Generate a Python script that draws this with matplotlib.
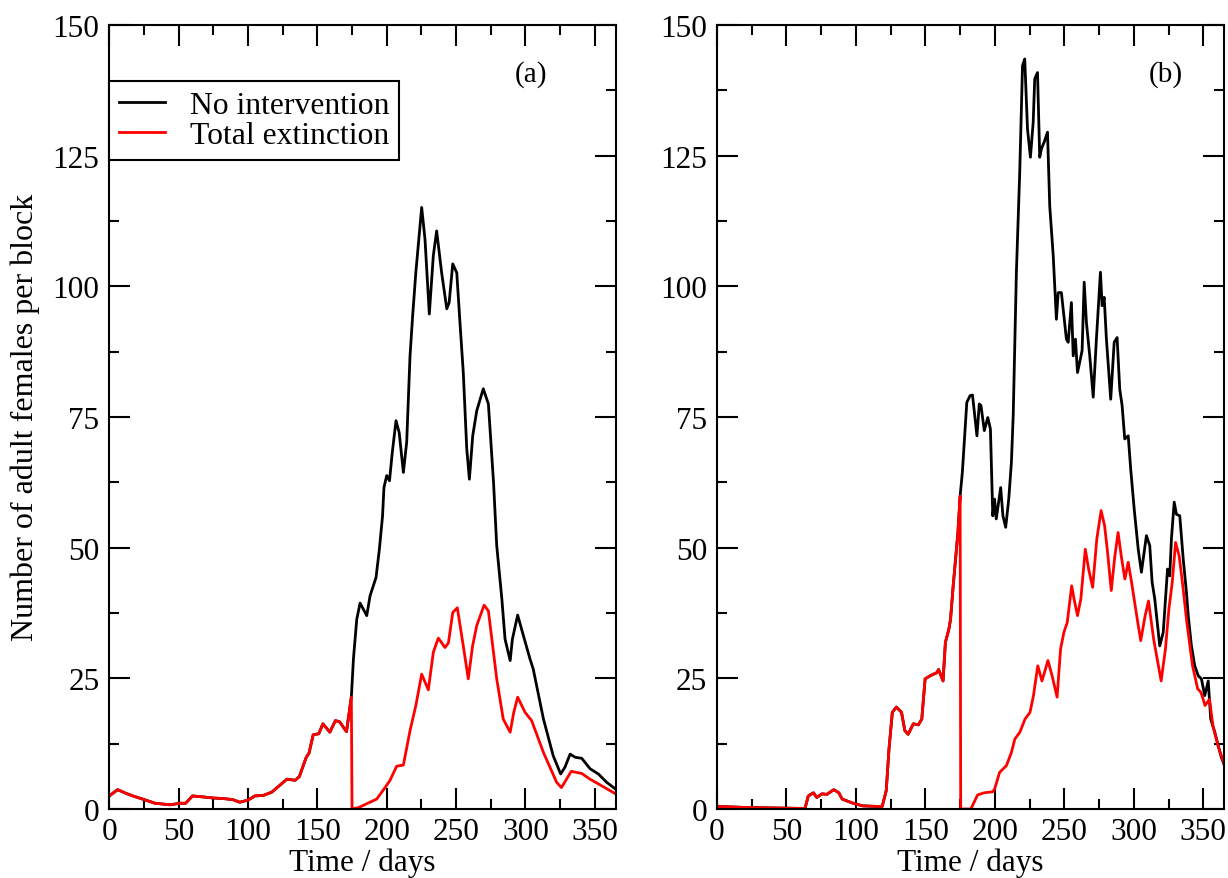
import matplotlib
matplotlib.use('Agg')
import matplotlib.pyplot as plt
from matplotlib.ticker import MultipleLocator

plt.rcParams['font.family'] = ['Liberation Serif', 'DejaVu Serif']

# panel (a): both runs are identical until the intervention at day 175
a_days_pre = [0, 6, 12, 17, 24, 33, 44, 51, 55, 60, 68, 75, 82, 89, 94, 100, 105, 111, 117,
              121, 128, 134, 137, 142, 144, 147, 151, 154, 159, 163, 166, 171, 174.5]
a_vals_pre = [2.5, 3.7, 3.0, 2.5, 1.9, 1.1, 0.8, 1.1, 1.1, 2.5, 2.3, 2.1, 2.0, 1.8, 1.3, 1.7, 2.5, 2.6, 3.2,
              4.1, 5.7, 5.5, 6.2, 9.9, 10.7, 14.2, 14.4, 16.3, 14.7, 16.9, 16.7, 14.8, 21.4]

a_none_days = [176, 178.4, 180.8, 185.6, 188, 192.3, 194.7, 197, 198, 200,
               202, 204, 206.7, 209, 212, 214.4, 216.8, 218.7, 221, 225.2,
               227.6, 230.7, 233.6, 236, 239.6, 243.3, 245, 247.6, 250.5, 252.8,
               255.2, 257.7, 259.6, 262, 264.9, 269.6, 273.3, 277, 279.3, 283,
               285.3, 289, 290.6, 294.4, 298.5, 303.3, 305.6, 313, 320, 325.4,
               328.5, 332.2, 335.8, 340.6, 346.6, 352.6, 358.6, 365]
a_none_vals = [28.7, 36.3, 39.4, 37, 40.8, 44.3, 49.7, 56.1, 61.5, 63.8,
               62.8, 68.2, 74.3, 72, 64.4, 70.2, 86.7, 94.4, 102.7, 115.1,
               109, 94.7, 105.9, 110.6, 102.6, 95.7, 96.9, 104.3, 102.6, 93.1,
               83.5, 68.9, 63.1, 71.4, 76.2, 80.4, 77.5, 62.5, 50.4, 40.2,
               32.5, 28.4, 32.5, 37.1, 33.2, 28.7, 26.8, 17.2, 10.2, 6.7,
               8.0, 10.5, 9.9, 9.7, 7.7, 6.7, 5.1, 3.8]

a_ext_days = [175, 180, 185.5, 192.8, 198.8, 202.2, 207.2, 212, 216.8, 221, 225.2, 230, 233.6,
              237.2, 242, 244.5, 247.6, 250.9, 255.2, 258.8, 261.9, 264.9, 270.2, 273.3, 279.3,
              284, 289, 291.6, 294.4, 299.7, 304.5, 313, 322.5, 326, 333, 340.6, 346.6, 352.6, 365]
a_ext_vals = [0, 0.3, 1, 1.9, 4.1, 5.4, 8.2, 8.4, 15.0, 19.8, 25.8, 22.8, 30,
              32.7, 30.9, 31.8, 37.6, 38.5, 31.2, 24.9, 31.2, 35.1, 39, 37.9, 24.9,
              17.2, 14.7, 18.5, 21.4, 18.5, 16.9, 10.8, 5.1, 4.1, 7.2, 6.8, 5.7, 4.8, 2.9]

# panel (b)
b_days_pre = [0, 20, 40, 63.3, 65.7, 69.4, 71.8, 75.5, 79.1, 84, 87.7, 90.1, 97.4, 104.8, 114.5,
              118.9, 121.8, 123.8, 126.2, 129.1, 132.8, 135.2, 137.6, 141.3, 144.9, 147.4, 149.8,
              153.5, 158.3, 159.5, 162.7, 164.4, 166.9, 168.1, 170, 171.7, 173.4, 175]
b_vals_pre = [0.5, 0.3, 0.2, 0.1, 2.5, 3.1, 2.2, 2.9, 2.8, 3.7, 3.1, 1.9, 1.15, 0.6, 0.5,
              0.5, 3.5, 11.5, 18.5, 19.5, 18.5, 15, 14.3, 16.3, 16.1, 17.2, 24.9,
              25.5, 26.1, 26.7, 24.5, 31.9, 34.4, 36.3, 42.7, 47.8, 52.9, 59.9]

b_none_days = [176.6, 177.8, 179.8, 182.2, 183.9, 187.1, 188.8, 190, 192.4, 194.9,
               196.8, 198.5, 199.8, 201, 204.2, 205.8, 207.8, 210, 211.9, 213.2,
               215.5, 217.9, 219.9, 221.5, 223.5, 225.6, 227.6, 228.7, 230.7, 232.3,
               233.5, 235.5, 237.9, 239.5, 242, 244.3, 245.6, 247.9, 251.5, 252.8,
               255.1, 256.4, 258, 259.5, 261.1, 262.8, 264.3, 265.9, 268.3, 270.8,
               273.1, 276, 277.2, 278.7, 280.3, 283.4, 285.9, 288, 289.9, 291.6,
               293.5, 296, 297.8, 300.3, 303.2, 305.5, 309.1, 311.5, 313.2, 315.1,
               318.7, 321.2, 324.3, 325.9, 327.1, 329.1, 330.7, 333.1, 335.6, 337.9,
               339.2, 341.5, 343.9, 346.4, 348.7, 351.1, 353.6, 355.4, 358.3, 363, 365]
b_none_vals = [64.4, 69.5, 77.8, 79.1, 79.2, 71.4, 77.5, 77.2, 72.4, 74.9,
               72.7, 56.1, 59.3, 55.5, 61.5, 56.1, 53.9, 59.3, 66.3, 75.2,
               102.7, 121.8, 142.2, 143.5, 130.1, 124.7, 131.4, 139.7, 140.9, 124.7,
               126.3, 127.6, 129.5, 115.4, 105.9, 93.7, 98.8, 98.8, 89.9, 89.3,
               96.9, 86.7, 89.9, 83.5, 85.5, 87.7, 100.8, 93.1, 86.7, 78.8,
               89.9, 102.7, 96.3, 97.9, 89.9, 78.4, 89.3, 90.2, 80.3, 77.2,
               70.8, 71.4, 65, 57.4, 49.7, 45.3, 52.3, 50.4, 43.4, 40.2,
               31.2, 33.8, 45.9, 44.6, 51.7, 58.7, 56.4, 56.1, 47.8, 41.5,
               37, 31.2, 27.4, 25.5, 24.9, 21.7, 24.5, 17.2, 14.7, 9.9, 8.5]

b_ext_days = [175.4, 182.7, 187.6, 192.4, 198.5, 199.8, 203.4, 208.3, 211.9, 214.4,
              218, 221.7, 225.3, 227.8, 230.9, 233.9, 238.2, 241.2, 244.8, 247.3,
              249.7, 252.1, 255.3, 257, 259.5, 261.9, 265.1, 267.5, 270.4, 273.4,
              276.5, 279, 280.9, 283.8, 286.3, 288.7, 291.1, 293.6, 296, 298.4,
              302.1, 305, 308.2, 310.6, 314.3, 319.7, 322.8, 325.3, 327.7, 330.1,
              332.6, 335, 338.2, 342.3, 346, 348.4, 351.3, 354.5, 357, 360.6, 365]
b_ext_vals = [0, 0, 2.7, 3.1, 3.3, 3.8, 7, 8.3, 10.8, 13.4,
              14.7, 17.2, 18.5, 21.7, 27.4, 24.5, 28.4, 25.5, 21.4, 30.6,
              33.8, 35.7, 42.7, 40.2, 37, 40.2, 49.7, 45.9, 42.4, 51.7,
              57.1, 54.2, 49.7, 41.8, 48.2, 52.9, 48.2, 44, 47.2, 43.4,
              37, 32.2, 37, 39.8, 32.5, 24.5, 30.6, 38.3, 43.4, 51,
              48.5, 43.4, 35.7, 27.4, 23, 22.3, 19.8, 21, 15.9, 12.1, 8.6]

fig = plt.figure(figsize=(12.28, 8.79), dpi=100)
ax_a = fig.add_axes([0.0890, 0.0785, 0.4123, 0.8919])
ax_b = fig.add_axes([0.5839, 0.0785, 0.4129, 0.8919])

panels = [
    (ax_a, a_days_pre, a_vals_pre, a_none_days, a_none_vals, a_ext_days, a_ext_vals, '(a)', 0.833),
    (ax_b, b_days_pre, b_vals_pre, b_none_days, b_none_vals, b_ext_days, b_ext_vals, '(b)', 0.886),
]

for ax, pre_d, pre_v, none_d, none_v, ext_d, ext_v, tag, tag_x in panels:
    ax.plot(pre_d + none_d, pre_v + none_v, color='black', lw=2.0, label='No intervention')
    ax.plot(pre_d + ext_d, pre_v + ext_v, color='red', lw=2.0, label='Total extinction')

    ax.set_xlim(0, 365)
    ax.set_ylim(0, 150)
    ax.xaxis.set_major_locator(MultipleLocator(50))
    ax.xaxis.set_minor_locator(MultipleLocator(25))
    ax.yaxis.set_major_locator(MultipleLocator(25))
    ax.yaxis.set_minor_locator(MultipleLocator(12.5))
    ax.tick_params(which='both', direction='in', top=True, right=True, width=1.5)
    ax.tick_params(which='major', length=15, labelsize=22.5)
    ax.tick_params(axis='x', which='major', pad=6)
    ax.tick_params(axis='y', which='major', pad=7)
    ax.tick_params(which='minor', length=7.5)
    for s in ax.spines.values():
        s.set_linewidth(1.5)

    ax.set_xlabel('Time / days', fontsize=22.5, labelpad=0.5)
    ax.text(tag_x, 0.9375, tag, transform=ax.transAxes, ha='center', va='center', fontsize=21)

leg = ax_a.legend(loc='upper left', bbox_to_anchor=(0, 0.9286), borderaxespad=0, fontsize=22.8,
                  frameon=True, fancybox=False, framealpha=1, edgecolor='black',
                  handlelength=1.45, handletextpad=0.8, borderpad=0.3, labelspacing=0.05)
leg.get_frame().set_linewidth(1.5)

fig.text(25 / 1228, 1 - 417 / 879, 'Number of adult females per block', rotation=90,
         ha='center', va='center', fontsize=23)

fig.savefig('out.png', dpi=100)
